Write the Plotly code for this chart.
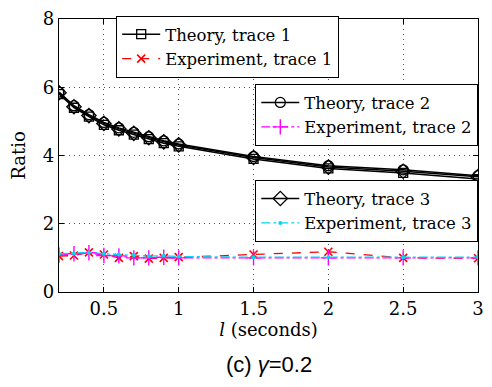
import plotly.graph_objects as go

# Window length l (seconds)
l_values = [0.2, 0.3, 0.4, 0.5, 0.6, 0.7, 0.8, 0.9, 1.0, 1.5, 2.0, 2.5, 3.0]

# Theoretical ratio for each trace
theory_1 = [5.80, 5.40, 5.14, 4.90, 4.74, 4.61, 4.48, 4.36, 4.27, 3.90, 3.62, 3.49, 3.31]
theory_2 = [5.86, 5.46, 5.20, 4.97, 4.81, 4.68, 4.55, 4.43, 4.34, 3.97, 3.70, 3.58, 3.41]
theory_3 = [5.84, 5.43, 5.17, 4.94, 4.78, 4.65, 4.52, 4.40, 4.31, 3.94, 3.66, 3.54, 3.38]

# Measured ratio for each trace
experiment_1 = [1.05, 1.07, 1.16, 1.10, 1.00, 1.05, 0.98, 1.00, 1.02, 1.10, 1.18, 1.00, 0.99]
experiment_2 = [1.08, 1.12, 1.15, 1.07, 1.06, 1.00, 1.00, 1.02, 1.00, 1.00, 1.00, 1.00, 1.00]
experiment_3 = [1.12, 1.13, 1.16, 1.12, 1.10, 1.08, 1.05, 1.06, 1.04, 1.02, 1.02, 1.02, 1.02]

x_ticks = [0.5, 1, 1.5, 2, 2.5, 3]
y_ticks = [0, 2, 4, 6, 8]

serif = "DejaVu Serif"

fig = go.Figure()

theory_style = dict(mode="lines+markers", line=dict(color="black", width=1.5))
fig.add_trace(go.Scatter(x=l_values, y=theory_1, name="Theory, trace 1", legend="legend",
                         marker=dict(symbol="square-open", size=9, color="black", line=dict(width=1.3)),
                         **theory_style))
fig.add_trace(go.Scatter(x=l_values, y=experiment_1, name="Experiment, trace 1", legend="legend",
                         mode="lines+markers", line=dict(color="red", width=1.3, dash="dash"),
                         marker=dict(symbol="x-thin", size=8, color="red", line=dict(width=1.6, color="red"))))
fig.add_trace(go.Scatter(x=l_values, y=theory_2, name="Theory, trace 2", legend="legend2",
                         marker=dict(symbol="circle-open", size=10, color="black", line=dict(width=1.3)),
                         **theory_style))
fig.add_trace(go.Scatter(x=l_values, y=experiment_2, name="Experiment, trace 2", legend="legend2",
                         mode="lines+markers", line=dict(color="magenta", width=1.3, dash="dashdot"),
                         marker=dict(symbol="cross-thin", size=11, color="magenta", line=dict(width=1.4, color="magenta"))))
fig.add_trace(go.Scatter(x=l_values, y=theory_3, name="Theory, trace 3", legend="legend3",
                         marker=dict(symbol="diamond-open", size=11, color="black", line=dict(width=1.3)),
                         **theory_style))
fig.add_trace(go.Scatter(x=l_values, y=experiment_3, name="Experiment, trace 3", legend="legend3",
                         mode="lines+markers", line=dict(color="#00d8f0", width=1.3, dash="dashdot"),
                         marker=dict(symbol="circle", size=4, color="#00d8f0")))

legend_common = dict(
    bgcolor="white", bordercolor="black", borderwidth=1.2,
    font=dict(family=serif, size=16.5, color="black"),
    xanchor="left", yanchor="top", itemwidth=38, tracegroupgap=0,
)

fig.update_layout(
    width=492, height=387,
    margin=dict(l=59, r=8, t=9, b=95),
    paper_bgcolor="white", plot_bgcolor="white",
    font=dict(family=serif, size=18, color="black"),
    legend=dict(x=0.136, y=1.012, **legend_common),
    legend2=dict(x=0.468, y=0.762, **legend_common),
    legend3=dict(x=0.468, y=0.41, **legend_common),
    xaxis=dict(
        range=[0.2, 3], tickvals=x_ticks, ticks="inside", ticklen=5, tickcolor="black",
        showline=True, linecolor="black", linewidth=1.3, mirror="ticks",
        showgrid=True, gridcolor="#555", griddash="1px,4px", gridwidth=1, zeroline=False,
        tickfont=dict(family=serif, size=18),
        title=dict(text="<i>l</i> (seconds)", font=dict(family=serif, size=18), standoff=3),
    ),
    yaxis=dict(
        range=[0, 8], tickvals=y_ticks, ticks="inside", ticklen=5, tickcolor="black",
        showline=True, linecolor="black", linewidth=1.3, mirror="ticks",
        showgrid=True, gridcolor="#555", griddash="1px,4px", gridwidth=1, zeroline=False,
        tickfont=dict(family=serif, size=18), ticklabeloverflow="allow",
        title=dict(text="Ratio", font=dict(family=serif, size=18), standoff=12),
    ),
    annotations=[dict(
        text="(c) <i>γ</i>=0.2", xref="paper", yref="paper", x=0.5, y=-0.264,
        xanchor="center", yanchor="middle", showarrow=False,
        font=dict(family="Liberation Sans, Arial, sans-serif", size=22, color="black"),
    )],
)

fig.write_html("out.html")
